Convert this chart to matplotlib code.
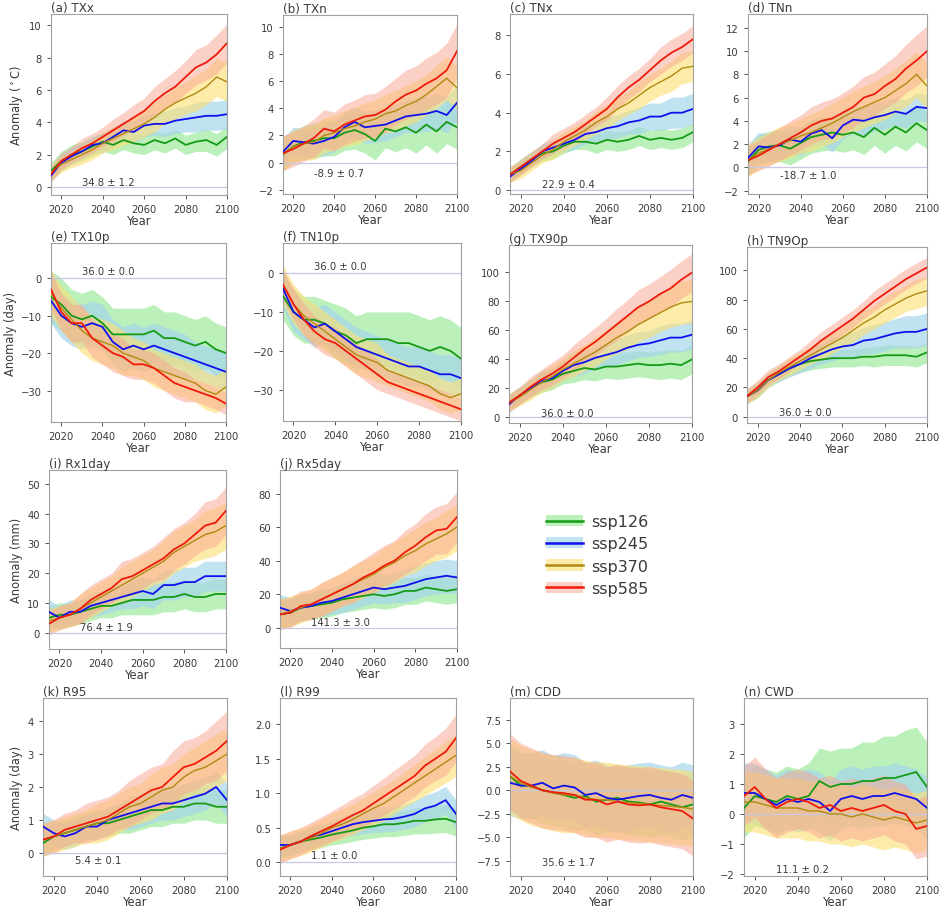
import matplotlib
matplotlib.use("Agg")
import matplotlib.pyplot as plt
from matplotlib.lines import Line2D
from matplotlib.patches import Patch

# Multi-model mean anomalies (relative to baseline), read every 5 years
YEARS = [2015, 2020, 2025, 2030, 2035, 2040, 2045, 2050, 2055,
         2060, 2065, 2070, 2075, 2080, 2085, 2090, 2095, 2100]
SCENARIOS = ["ssp126", "ssp245", "ssp370", "ssp585"]

# order inside each list: ssp126, ssp245, ssp370, ssp585
TXX = [[1.0, 1.6, 2.0, 2.2, 2.5, 2.8, 2.6, 2.9, 2.7, 2.6, 2.9, 2.7, 3.0, 2.6, 2.8, 2.9, 2.6, 3.1],
       [0.7, 1.5, 1.9, 2.2, 2.6, 2.7, 3.1, 3.5, 3.4, 3.8, 3.9, 3.9, 4.1, 4.2, 4.3, 4.4, 4.4, 4.5],
       [0.9, 1.4, 1.7, 2.0, 2.3, 2.7, 3.0, 3.3, 3.6, 3.9, 4.3, 4.8, 5.2, 5.5, 5.8, 6.2, 6.8, 6.5],
       [0.8, 1.6, 2.0, 2.4, 2.7, 3.1, 3.5, 3.9, 4.3, 4.7, 5.3, 5.8, 6.2, 6.8, 7.4, 7.7, 8.2, 8.9]]
TXX_SD = [[0.5, 0.6, 0.6, 0.6, 0.6, 0.6, 0.6, 0.6, 0.6, 0.6, 0.6, 0.6, 0.6, 0.6, 0.6, 0.7, 0.7, 0.7],
          [0.4, 0.5, 0.5, 0.5, 0.5, 0.6, 0.6, 0.6, 0.7, 0.7, 0.7, 0.8, 0.8, 0.8, 0.9, 0.9, 0.9, 0.9],
          [0.5, 0.5, 0.5, 0.6, 0.6, 0.6, 0.7, 0.7, 0.8, 0.8, 0.9, 0.9, 1.0, 1.0, 1.1, 1.1, 1.2, 1.2],
          [0.5, 0.5, 0.5, 0.6, 0.6, 0.6, 0.7, 0.7, 0.8, 0.8, 0.9, 0.9, 1.0, 1.0, 1.1, 1.1, 1.2, 1.2]]

TXN = [[0.6, 1.2, 1.5, 1.6, 1.8, 1.8, 2.2, 2.4, 2.1, 1.6, 2.5, 2.3, 2.6, 2.2, 2.8, 2.3, 3.0, 2.6],
       [0.8, 1.6, 1.5, 1.4, 1.6, 1.9, 2.6, 3.0, 2.6, 2.7, 2.8, 3.1, 3.4, 3.5, 3.6, 3.8, 3.5, 4.4],
       [0.6, 1.2, 1.4, 1.5, 2.0, 2.2, 2.5, 2.7, 3.0, 3.2, 3.6, 3.8, 4.2, 4.5, 5.0, 5.6, 6.2, 5.5],
       [0.7, 1.0, 1.4, 1.8, 2.5, 2.3, 2.8, 3.1, 3.4, 3.5, 3.9, 4.5, 5.0, 5.3, 5.8, 6.2, 6.8, 8.2]]
TXN_SD = [[1.2, 1.2, 1.2, 1.3, 1.3, 1.3, 1.3, 1.4, 1.4, 1.4, 1.4, 1.5, 1.5, 1.5, 1.5, 1.6, 1.6, 1.6],
          [1.0, 1.0, 1.0, 1.0, 1.1, 1.1, 1.1, 1.1, 1.2, 1.2, 1.2, 1.2, 1.2, 1.3, 1.3, 1.3, 1.3, 1.3],
          [1.2, 1.2, 1.2, 1.3, 1.3, 1.3, 1.3, 1.4, 1.4, 1.4, 1.4, 1.5, 1.5, 1.5, 1.5, 1.6, 1.6, 1.6],
          [1.3, 1.3, 1.3, 1.4, 1.4, 1.4, 1.5, 1.5, 1.6, 1.6, 1.7, 1.7, 1.8, 1.8, 1.9, 1.9, 2.0, 2.0]]

TNX = [[0.8, 1.2, 1.6, 1.9, 2.0, 2.3, 2.5, 2.5, 2.4, 2.6, 2.5, 2.6, 2.8, 2.6, 2.7, 2.6, 2.7, 3.0],
       [0.7, 1.1, 1.5, 2.0, 2.2, 2.4, 2.6, 2.9, 3.0, 3.2, 3.3, 3.5, 3.6, 3.8, 3.8, 4.0, 4.0, 4.2],
       [0.8, 1.0, 1.4, 1.8, 2.1, 2.5, 2.8, 3.1, 3.5, 3.8, 4.2, 4.5, 4.9, 5.3, 5.6, 5.9, 6.3, 6.4],
       [0.8, 1.2, 1.6, 2.0, 2.4, 2.7, 3.0, 3.4, 3.8, 4.2, 4.8, 5.3, 5.7, 6.2, 6.7, 7.1, 7.4, 7.8]]
TNX_SD = [[0.4, 0.4, 0.4, 0.4, 0.4, 0.4, 0.4, 0.4, 0.5, 0.5, 0.5, 0.5, 0.5, 0.5, 0.5, 0.5, 0.5, 0.5],
          [0.3, 0.3, 0.3, 0.4, 0.4, 0.4, 0.5, 0.5, 0.5, 0.6, 0.6, 0.6, 0.7, 0.7, 0.7, 0.8, 0.8, 0.8],
          [0.4, 0.4, 0.4, 0.4, 0.5, 0.5, 0.5, 0.5, 0.6, 0.6, 0.6, 0.6, 0.7, 0.7, 0.7, 0.8, 0.8, 0.8],
          [0.4, 0.4, 0.4, 0.4, 0.5, 0.5, 0.5, 0.5, 0.5, 0.6, 0.6, 0.6, 0.6, 0.6, 0.7, 0.7, 0.7, 0.7]]

TNN = [[0.5, 1.5, 1.8, 1.9, 1.6, 2.1, 2.6, 2.8, 3.0, 2.8, 3.0, 2.6, 3.4, 2.8, 3.5, 3.0, 3.8, 3.2],
       [0.8, 1.8, 1.7, 1.9, 2.4, 2.2, 2.9, 3.2, 2.5, 3.6, 4.1, 4.0, 4.3, 4.5, 4.8, 4.6, 5.2, 5.1],
       [0.6, 1.2, 1.6, 2.0, 2.3, 2.7, 3.0, 3.4, 3.8, 4.3, 4.8, 5.2, 5.6, 6.0, 6.6, 7.2, 8.0, 7.0],
       [0.6, 1.0, 1.5, 2.0, 2.5, 3.0, 3.6, 4.0, 4.2, 4.7, 5.2, 6.0, 6.3, 7.0, 7.6, 8.5, 9.2, 10.0]]
TNN_SD = [[1.3, 1.3, 1.3, 1.4, 1.4, 1.4, 1.4, 1.4, 1.5, 1.5, 1.5, 1.5, 1.5, 1.6, 1.6, 1.6, 1.6, 1.6],
          [1.2, 1.2, 1.2, 1.2, 1.2, 1.2, 1.2, 1.2, 1.2, 1.2, 1.2, 1.2, 1.2, 1.2, 1.2, 1.2, 1.2, 1.2],
          [1.4, 1.4, 1.4, 1.5, 1.5, 1.5, 1.6, 1.6, 1.7, 1.7, 1.8, 1.8, 1.8, 1.9, 1.9, 2.0, 2.0, 2.0],
          [1.3, 1.3, 1.4, 1.4, 1.5, 1.5, 1.6, 1.6, 1.7, 1.7, 1.8, 1.8, 1.9, 1.9, 2.0, 2.1, 2.2, 2.2]]

TX10P = [[-5, -7, -10, -11, -10, -12, -15, -15, -15, -15, -14, -16, -16, -17, -18, -17, -19, -20],
         [-6, -10, -12, -13, -12, -13, -17, -19, -18, -19, -18, -19, -20, -21, -22, -23, -24, -25],
         [-4, -8, -11, -14, -16, -17, -18, -20, -21, -22, -24, -25, -26, -27, -28, -30, -31, -29],
         [-3, -9, -12, -12, -16, -18, -20, -21, -23, -23, -24, -26, -28, -29, -30, -31, -32, -33.5]]
TX10P_SD = [[7, 7, 7, 7, 7, 7, 7, 7, 7, 7, 7, 7, 7, 7, 7, 7, 7, 7],
            [6, 6, 6, 6, 6, 6, 6, 6, 6, 6, 6, 6, 6, 6, 5, 5, 5, 5],
            [6, 6, 6, 6, 6, 6, 6, 6, 5, 5, 5, 5, 5, 5, 5, 5, 5, 5],
            [5, 5, 5, 5, 5, 5, 5, 5, 4, 4, 4, 4, 4, 4, 3, 3, 3, 3]]

TN10P = [[-6, -10, -12, -12, -13, -15, -16, -18, -17, -17, -17, -18, -18, -19, -20, -19, -20, -22],
         [-4, -10, -12, -14, -13, -15, -17, -19, -20, -21, -22, -23, -24, -24, -25, -26, -26, -27],
         [-3, -8, -11, -13, -15, -17, -19, -21, -22, -23, -25, -26, -27, -28, -29, -31, -32, -31],
         [-3, -8, -12, -15, -17, -18, -20, -22, -24, -26, -28, -29, -30, -31, -32, -33, -34, -35]]
TN10P_SD = [[6, 6, 6, 6, 6, 7, 7, 7, 7, 7, 7, 8, 8, 8, 8, 8, 8, 8],
            [5, 5, 5, 5, 5, 5, 5, 5, 5, 5, 5, 5, 5, 5, 5, 5, 5, 5],
            [5, 5, 5, 5, 5, 5, 5, 5, 5, 5, 4, 4, 4, 4, 4, 4, 4, 4],
            [4, 4, 4, 4, 4, 4, 4, 4, 4, 4, 3, 3, 3, 3, 3, 3, 3, 3]]

TX90P = [[10, 15, 20, 24, 26, 30, 32, 34, 33, 35, 35, 36, 37, 36, 36, 37, 36, 40],
         [9, 15, 20, 25, 27, 32, 36, 38, 41, 43, 45, 48, 50, 51, 53, 55, 55, 57],
         [10, 14, 19, 24, 28, 33, 37, 41, 45, 50, 55, 59, 64, 68, 72, 76, 79, 80],
         [10, 15, 21, 26, 30, 35, 41, 47, 52, 58, 64, 70, 76, 80, 85, 89, 95, 100]]
TX90P_SD = [[6, 6, 6, 7, 7, 7, 8, 8, 8, 8, 9, 9, 9, 9, 10, 10, 10, 10],
            [6, 6, 6, 7, 7, 7, 8, 8, 8, 8, 9, 9, 9, 9, 10, 10, 10, 10],
            [6, 6, 7, 7, 8, 8, 9, 9, 10, 10, 11, 12, 12, 13, 13, 14, 15, 15],
            [6, 6, 7, 7, 8, 8, 9, 9, 10, 10, 11, 11, 12, 12, 12, 13, 13, 13]]

TN90P = [[14, 18, 25, 29, 33, 36, 38, 39, 40, 40, 40, 41, 41, 42, 42, 42, 41, 44],
         [14, 18, 25, 29, 33, 36, 40, 43, 46, 48, 49, 52, 53, 55, 57, 58, 58, 60],
         [14, 18, 25, 30, 34, 38, 42, 46, 50, 54, 59, 64, 68, 73, 77, 81, 84, 86],
         [14, 20, 27, 31, 36, 41, 46, 52, 57, 62, 67, 73, 79, 84, 89, 94, 98, 102]]
TN90P_SD = [[5, 5, 5, 5, 5, 6, 6, 6, 6, 6, 6, 6, 7, 7, 7, 7, 7, 7],
            [5, 5, 5, 5, 6, 6, 7, 7, 8, 8, 9, 9, 10, 10, 10, 11, 11, 11],
            [5, 5, 5, 5, 6, 6, 6, 7, 7, 7, 8, 8, 8, 9, 9, 9, 10, 10],
            [5, 5, 5, 5, 5, 5, 6, 6, 6, 6, 6, 6, 7, 7, 7, 7, 7, 7]]

RX1DAY = [[5, 6, 6, 7, 8, 9, 9, 10, 11, 11, 11, 12, 12, 13, 12, 12, 13, 13],
          [7, 5, 7, 7, 9, 10, 11, 12, 13, 14, 13, 16, 16, 17, 17, 19, 19, 19],
          [4, 5, 6, 8, 10, 12, 14, 16, 18, 20, 22, 24, 27, 29, 31, 33, 34, 36],
          [3, 5, 6, 8, 11, 13, 15, 18, 19, 21, 23, 25, 28, 30, 33, 36, 37, 41]]
RX1DAY_SD = [[4, 4, 4, 4, 4, 4, 4, 4, 5, 5, 5, 5, 5, 5, 5, 5, 5, 5],
             [4, 4, 4, 4, 4, 4, 4, 4, 5, 5, 5, 5, 5, 5, 5, 5, 5, 5],
             [4, 4, 4, 5, 5, 5, 5, 6, 6, 6, 6, 7, 7, 7, 7, 8, 8, 8],
             [4, 4, 4, 5, 5, 5, 5, 6, 6, 6, 6, 7, 7, 7, 7, 8, 8, 8]]

RX5DAY = [[8, 9, 12, 13, 14, 15, 17, 18, 19, 20, 19, 20, 22, 22, 24, 23, 22, 23],
          [12, 10, 12, 13, 15, 16, 18, 20, 22, 24, 23, 24, 25, 27, 29, 30, 31, 30],
          [8, 10, 12, 14, 17, 20, 23, 26, 29, 32, 36, 39, 43, 46, 50, 53, 56, 60],
          [8, 9, 13, 14, 17, 20, 23, 26, 30, 33, 37, 40, 45, 49, 54, 58, 59, 66]]
RX5DAY_SD = [[8, 8, 8, 8, 8, 8, 8, 8, 8, 8, 8, 8, 8, 8, 8, 8, 8, 8],
             [8, 8, 8, 8, 8, 8, 9, 9, 9, 9, 9, 9, 10, 10, 10, 10, 10, 10],
             [9, 9, 9, 9, 10, 10, 10, 11, 11, 11, 12, 12, 12, 13, 13, 13, 14, 14],
             [9, 9, 9, 9, 10, 10, 10, 11, 11, 12, 12, 12, 13, 13, 14, 14, 15, 15]]

R95 = [[0.3, 0.5, 0.6, 0.7, 0.8, 0.9, 0.9, 1.0, 1.1, 1.2, 1.3, 1.3, 1.4, 1.4, 1.5, 1.5, 1.4, 1.4],
       [0.8, 0.6, 0.5, 0.6, 0.8, 0.8, 1.0, 1.1, 1.2, 1.3, 1.4, 1.5, 1.5, 1.6, 1.7, 1.8, 2.0, 1.6],
       [0.4, 0.5, 0.6, 0.7, 0.8, 0.9, 1.0, 1.2, 1.4, 1.5, 1.7, 1.9, 2.0, 2.3, 2.5, 2.6, 2.8, 3.0],
       [0.4, 0.5, 0.7, 0.8, 0.9, 1.0, 1.1, 1.3, 1.5, 1.7, 1.9, 2.0, 2.3, 2.6, 2.7, 2.9, 3.1, 3.4]]
R95_SD = [[0.4, 0.4, 0.4, 0.4, 0.4, 0.4, 0.4, 0.4, 0.5, 0.5, 0.5, 0.5, 0.5, 0.5, 0.5, 0.5, 0.5, 0.5],
          [0.4, 0.4, 0.4, 0.4, 0.4, 0.4, 0.4, 0.4, 0.5, 0.5, 0.5, 0.5, 0.5, 0.5, 0.5, 0.5, 0.5, 0.5],
          [0.5, 0.5, 0.5, 0.5, 0.5, 0.6, 0.6, 0.6, 0.6, 0.6, 0.7, 0.7, 0.7, 0.7, 0.7, 0.8, 0.8, 0.8],
          [0.5, 0.5, 0.5, 0.5, 0.6, 0.6, 0.6, 0.6, 0.7, 0.7, 0.7, 0.7, 0.8, 0.8, 0.8, 0.8, 0.9, 0.9]]

R99 = [[0.20, 0.25, 0.30, 0.33, 0.36, 0.40, 0.43, 0.46, 0.50, 0.52, 0.55, 0.55, 0.57, 0.60, 0.60, 0.62, 0.63, 0.58],
       [0.25, 0.25, 0.30, 0.37, 0.40, 0.45, 0.50, 0.55, 0.58, 0.60, 0.62, 0.63, 0.66, 0.70, 0.78, 0.82, 0.90, 0.70],
       [0.20, 0.25, 0.30, 0.35, 0.42, 0.50, 0.55, 0.62, 0.70, 0.78, 0.85, 0.95, 1.05, 1.15, 1.25, 1.35, 1.45, 1.55],
       [0.18, 0.25, 0.30, 0.38, 0.45, 0.52, 0.60, 0.68, 0.75, 0.85, 0.95, 1.05, 1.15, 1.25, 1.40, 1.50, 1.60, 1.80]]
R99_SD = [[0.15, 0.15, 0.15, 0.15, 0.15, 0.15, 0.16, 0.16, 0.17, 0.17, 0.18, 0.18, 0.18, 0.19, 0.19, 0.20, 0.20, 0.20],
          [0.15, 0.15, 0.15, 0.15, 0.15, 0.15, 0.16, 0.16, 0.17, 0.17, 0.18, 0.18, 0.18, 0.19, 0.19, 0.20, 0.20, 0.20],
          [0.20, 0.20, 0.20, 0.20, 0.20, 0.21, 0.22, 0.22, 0.23, 0.24, 0.25, 0.25, 0.26, 0.27, 0.28, 0.29, 0.30, 0.30],
          [0.20, 0.20, 0.20, 0.20, 0.21, 0.22, 0.23, 0.24, 0.25, 0.26, 0.27, 0.28, 0.29, 0.30, 0.31, 0.32, 0.34, 0.35]]

CDD = [[1.5, 0.5, 0.5, 0.0, -0.2, -0.5, -0.8, -0.6, -1.2, -1.0, -0.8, -1.2, -1.3, -1.5, -1.2, -1.5, -1.8, -1.5],
       [0.8, 0.5, 0.5, 0.8, 0.2, 0.5, 0.3, -0.5, -0.3, -0.8, -1.0, -0.8, -0.6, -0.5, -0.8, -1.0, -0.5, -0.8],
       [1.5, 0.8, 0.3, 0.0, -0.3, -0.5, -0.5, -0.8, -1.0, -1.0, -1.2, -1.3, -1.4, -1.5, -1.6, -1.7, -1.8, -2.0],
       [2.0, 1.0, 0.5, 0.0, -0.2, -0.3, -0.5, -1.0, -1.0, -1.5, -1.2, -1.5, -1.6, -1.5, -1.8, -2.0, -2.2, -3.0]]
CDD_SD = [[3.5, 3.5, 3.5, 3.5, 3.5, 3.5, 3.5, 3.5, 3.5, 3.5, 3.5, 3.5, 3.5, 3.5, 3.5, 3.5, 3.5, 3.5],
          [3.5, 3.5, 3.5, 3.5, 3.5, 3.5, 3.5, 3.5, 3.5, 3.5, 3.5, 3.5, 3.5, 3.5, 3.5, 3.5, 3.5, 3.5],
          [4.0, 4.0, 4.0, 4.0, 4.0, 4.0, 4.0, 4.0, 4.0, 4.0, 4.0, 4.0, 4.0, 4.0, 4.0, 4.0, 4.0, 4.0],
          [4.0, 4.0, 4.0, 4.0, 4.0, 4.0, 4.0, 4.0, 4.0, 4.0, 4.0, 4.0, 4.0, 4.0, 4.0, 4.0, 4.0, 4.0]]

CWD = [[0.2, 0.6, 0.5, 0.4, 0.6, 0.5, 0.6, 1.1, 0.9, 1.0, 1.0, 1.1, 1.1, 1.2, 1.2, 1.3, 1.4, 0.9],
       [0.7, 0.7, 0.5, 0.3, 0.5, 0.4, 0.5, 0.4, 0.1, 0.5, 0.6, 0.5, 0.6, 0.6, 0.7, 0.6, 0.5, 0.2],
       [0.4, 0.4, 0.3, 0.2, 0.2, 0.2, 0.1, 0.1, 0.0, 0.0, -0.1, 0.0, -0.1, -0.2, -0.1, -0.2, -0.3, -0.2],
       [0.6, 0.9, 0.5, 0.2, 0.4, 0.5, 0.4, 0.2, 0.3, 0.1, 0.2, 0.1, 0.2, 0.3, 0.1, 0.0, -0.5, -0.4]]
CWD_SD = [[1.0, 1.0, 1.0, 1.0, 1.0, 1.0, 1.1, 1.1, 1.2, 1.2, 1.2, 1.3, 1.3, 1.4, 1.4, 1.5, 1.5, 1.5],
          [1.0, 1.0, 1.0, 1.0, 1.0, 1.0, 1.0, 1.0, 1.0, 1.0, 1.0, 1.0, 1.0, 1.0, 1.0, 1.0, 1.0, 1.0],
          [1.0, 1.0, 1.0, 1.0, 1.0, 1.0, 1.0, 1.0, 1.0, 1.0, 1.0, 1.0, 1.0, 1.0, 1.0, 1.0, 1.0, 1.0],
          [1.0, 1.0, 1.0, 1.0, 1.0, 1.0, 1.0, 1.0, 1.0, 1.0, 1.0, 1.0, 1.0, 1.0, 1.0, 1.0, 1.0, 1.0]]

TITLES = ["(a) TXx", "(b) TXn", "(c) TNx", "(d) TNn", "(e) TX10p", "(f) TN10p",
          "(g) TX90p", "(h) TN9Op", "(i) Rx1day", "(j) Rx5day", "(k) R95",
          "(l) R99", "(m) CDD", "(n) CWD"]
BASELINES = ["34.8 ± 1.2", "-8.9 ± 0.7", "22.9 ± 0.4", "-18.7 ± 1.0",
             "36.0 ± 0.0", "36.0 ± 0.0", "36.0 ± 0.0", "36.0 ± 0.0",
             "76.4 ± 1.9", "141.3 ± 3.0", "5.4 ± 0.1", "1.1 ± 0.0",
             "35.6 ± 1.7", "11.1 ± 0.2"]
YTICKS = [[0, 2, 4, 6, 8, 10], [-2, 0, 2, 4, 6, 8, 10], [0, 2, 4, 6, 8],
          [-2, 0, 2, 4, 6, 8, 10, 12], [-30, -20, -10, 0], [-30, -20, -10, 0],
          [0, 20, 40, 60, 80, 100], [0, 20, 40, 60, 80, 100],
          [0, 10, 20, 30, 40, 50], [0, 20, 40, 60, 80], [0, 1, 2, 3, 4],
          [0.0, 0.5, 1.0, 1.5, 2.0], [-7.5, -5.0, -2.5, 0.0, 2.5, 5.0, 7.5],
          [-2, -1, 0, 1, 2, 3]]
YLABELS = ["Anomaly ($^\\circ$C)", None, None, None, "Anomaly (day)", None, None, None,
           "Anomaly (mm)", None, "Anomaly (day)", None, None, None]

MEANS = [TXX, TXN, TNX, TNN, TX10P, TN10P, TX90P, TN90P, RX1DAY, RX5DAY, R95, R99, CDD, CWD]
SPREADS = [TXX_SD, TXN_SD, TNX_SD, TNN_SD, TX10P_SD, TN10P_SD, TX90P_SD, TN90P_SD,
           RX1DAY_SD, RX5DAY_SD, R95_SD, R99_SD, CDD_SD, CWD_SD]

# layout (pixel boxes: left, top, right, bottom), limits and label positions
W, H = 946, 912
BOXES = [(51, 15, 227, 196), (283, 16, 457, 195), (510, 15, 693, 195), (748, 15, 927, 195),
         (51, 244, 226, 423), (283, 244, 461, 422), (509, 246, 692, 424), (747, 248, 927, 424),
         (49, 471, 226, 650), (280, 471, 457, 649),
         (43, 699, 227, 877), (280, 699, 456, 877), (510, 699, 693, 877), (744, 699, 927, 877)]
YLIMS = [(-0.5, 10.7), (-2.3, 10.85), (-0.2, 9.1), (-2.3, 13.2), (-38.4, 9.4), (-38, 7.7),
         (-4, 119), (-4.3, 116), (-5.5, 54.7), (-12, 94), (-0.7, 4.7), (-0.2, 2.38),
         (-9.1, 9.8), (-2.07, 3.87)]
TEXT_Y = [0.3, -0.74, 0.31, -0.66, 1.9, 1.9, 3.0, 3.4, 1.8, 3.2, -0.22, 0.1, -7.6, -1.85]

LINE_COLORS = ["#159a15", "#1010ee", "#b08a10", "#f01a0a"]
LINE_WIDTHS = [1.3, 1.3, 1.0, 1.3]
BAND_COLORS = ["#a4eca4", "#a6d6ec", "#fde070", "#f9a590"]
BAND_ALPHAS = [0.75, 0.7, 0.6, 0.5]
TEXT_COLOR = "#3a3a3a"

fig = plt.figure(figsize=(W / 100, H / 100), dpi=100)

for i in range(len(TITLES)):
    l, t, r, b = BOXES[i]
    ax = fig.add_axes([l / W, 1 - b / H, (r - l) / W, (b - t) / H])
    mean = MEANS[i]
    sd = SPREADS[i]
    for k in range(4):
        lo = [m - s for m, s in zip(mean[k], sd[k])]
        hi = [m + s for m, s in zip(mean[k], sd[k])]
        ax.fill_between(YEARS, lo, hi, color=BAND_COLORS[k], alpha=BAND_ALPHAS[k], lw=0)
    ax.axhline(0, color="#c8c8e4", lw=0.9, zorder=1)
    for k in range(4):
        ax.plot(YEARS, mean[k], color=LINE_COLORS[k], lw=LINE_WIDTHS[k], zorder=3)
    ax.text(2030, TEXT_Y[i], BASELINES[i], fontsize=7.2, color=TEXT_COLOR, va="center", ha="left")
    ax.set_xlim(2015, 2100)
    ax.set_ylim(*YLIMS[i])
    ax.set_xticks([2020, 2040, 2060, 2080, 2100])
    ax.set_yticks(YTICKS[i])
    if i == 11:
        ax.set_yticklabels(["0.0", "0.5", "1.0", "1.5", "2.0"])
    ax.tick_params(labelsize=7.2, colors=TEXT_COLOR, length=3, width=0.6)
    for sp in ax.spines.values():
        sp.set_color("#a0a0a0")
        sp.set_linewidth(0.8)
    ax.set_title(TITLES[i], loc="left", fontsize=8.6, pad=2, color=TEXT_COLOR)
    ax.set_xlabel("Year", fontsize=8.3, labelpad=0, color=TEXT_COLOR)
    if YLABELS[i]:
        ax.set_ylabel(YLABELS[i], fontsize=8.3, labelpad=3, color=TEXT_COLOR)

handles = [(Patch(facecolor=BAND_COLORS[k], alpha=BAND_ALPHAS[k], lw=0),
            Line2D([], [], color=LINE_COLORS[k], lw=1.8)) for k in range(4)]
fig.legend(handles, SCENARIOS, loc="center", bbox_to_anchor=(597 / W, 1 - 556 / H),
           frameon=False, fontsize=11.5, handlelength=2.3, labelspacing=0.45,
           handletextpad=0.5, labelcolor=TEXT_COLOR)

fig.savefig("out.png", dpi=100)
